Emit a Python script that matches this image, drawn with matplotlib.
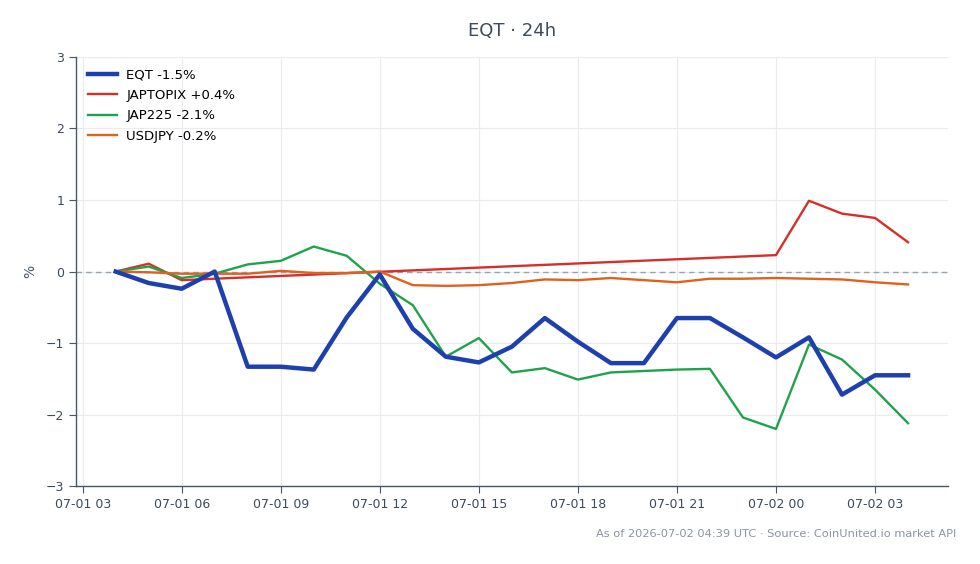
import pandas as pd
import matplotlib
matplotlib.use("Agg")
import matplotlib.pyplot as plt
import matplotlib.dates as mdates

# Hourly timestamps (UTC)
times = pd.date_range("2026-07-01 04:00", "2026-07-02 04:00", freq="h")

# % change series
eqt = [0.00, -0.16, -0.24, 0.00, -1.33, -1.33, -1.37, -0.64, -0.04, -0.80,
       -1.19, -1.27, -1.05, -0.65, -0.98, -1.28, -1.28, -0.65, -0.65, -0.92,
       -1.20, -0.92, -1.72, -1.45, -1.45]
jap225 = [0.00, 0.07, -0.09, -0.03, 0.10, 0.15, 0.35, 0.22, -0.17, -0.47,
          -1.19, -0.93, -1.41, -1.35, -1.51, -1.41, -1.39, -1.37, -1.36, -2.04,
          -2.20, -1.02, -1.23, -1.65, -2.12]
usdjpy = [0.00, -0.01, -0.03, -0.03, -0.03, 0.01, -0.02, -0.02, 0.00, -0.19,
          -0.20, -0.19, -0.16, -0.11, -0.12, -0.09, -0.12, -0.15, -0.10, -0.10,
          -0.09, -0.10, -0.11, -0.15, -0.18]
# JAPTOPIX only has quotes at these hours
topix_times = pd.to_datetime(["2026-07-01 04:00", "2026-07-01 05:00", "2026-07-01 06:00",
                              "2026-07-01 07:00", "2026-07-02 00:00", "2026-07-02 01:00",
                              "2026-07-02 02:00", "2026-07-02 03:00", "2026-07-02 04:00"])
japtopix = [0.00, 0.11, -0.12, -0.10, 0.23, 0.99, 0.81, 0.75, 0.41]

labels = ["EQT -1.5%", "JAPTOPIX +0.4%", "JAP225 -2.1%", "USDJPY -0.2%"]

fig = plt.figure(figsize=(9.8, 5.64), dpi=100)
ax = fig.add_axes([0.0776, 0.138, 0.8894, 0.761])

ax.axhline(0, color="#94a3b8", lw=1, ls=(0, (4, 3)), zorder=1)
ax.plot(times, eqt, color="#1e40af", lw=3.2, label=labels[0], zorder=5)
ax.plot(topix_times, japtopix, color="#d62f2a", lw=1.7, label=labels[1], zorder=3)
ax.plot(times, jap225, color="#1fa34a", lw=1.7, label=labels[2], zorder=3)
ax.plot(times, usdjpy, color="#e0601f", lw=1.7, label=labels[3], zorder=4)

ax.set_ylim(-3, 3)
ax.set_yticks(range(-3, 4))
ax.set_yticklabels(["\u22123", "\u22122", "\u22121", "0", "1", "2", "3"])
ax.margins(x=0.05)
ax.xaxis.set_major_locator(mdates.HourLocator(byhour=range(0, 24, 3)))
ax.xaxis.set_major_formatter(mdates.DateFormatter("%m-%d %H"))

ax.grid(True, color="#e8ebf0", lw=0.8)
ax.set_axisbelow(True)
for s in ["top", "right"]:
    ax.spines[s].set_visible(False)
for s in ["left", "bottom"]:
    ax.spines[s].set_color("#475569")
    ax.spines[s].set_linewidth(1.0)
ax.tick_params(colors="#475569", labelsize=9, length=5)
ax.tick_params(axis="both", labelcolor="#3d4a5c")
ax.set_ylabel("%", color="#475569", fontsize=10, labelpad=6)

ax.legend(loc="upper left", frameon=False, fontsize=9.5, handlelength=2.2,
          handletextpad=0.7, borderaxespad=0.5, labelspacing=0.55)

fig.text(0.5225, 0.945, "EQT \u00b7 24h", ha="center", va="center",
         fontsize=13, color="#3d4a5c")
fig.text(0.976, 0.053, "As of 2026-07-02 04:39 UTC \u00b7 Source: CoinUnited.io market API",
         ha="right", va="center", fontsize=8.2, color="#8a94a3")

fig.savefig("out.png", dpi=100)
